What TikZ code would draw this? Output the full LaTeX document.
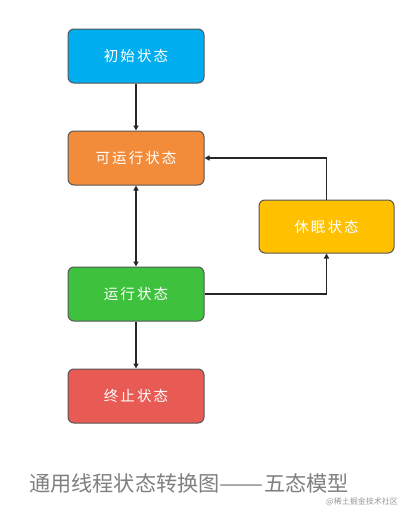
\documentclass[tikz,border=0pt]{standalone}
\usepackage{fontspec}
\newfontfamily\cjk{Noto Sans CJK SC}
\newfontfamily\cjkwide[LetterSpace=14]{Noto Sans CJK SC}
\usetikzlibrary{arrows.meta}
\definecolor{cblue}{RGB}{0,174,239}
\definecolor{corange}{RGB}{243,140,58}
\definecolor{cyellow}{RGB}{255,192,0}
\definecolor{cgreen}{RGB}{62,194,62}
\definecolor{cred}{RGB}{232,90,84}
\definecolor{cborder}{RGB}{85,85,85}
\definecolor{ccap}{RGB}{128,128,128}
\tikzset{
  state/.style={draw=cborder, line width=1pt, rounded corners=6pt, minimum width=136pt, minimum height=54pt, inner sep=0pt, text=white, font=\cjkwide\fontsize{14.5}{16}\selectfont},
  conn/.style={draw=black!85, line width=1.5pt, -{Triangle[length=5pt,width=5pt]}},
  conn2/.style={draw=black!85, line width=1.5pt, {Triangle[length=5pt,width=5pt]}-{Triangle[length=5pt,width=5pt]}}
}
\begin{document}
\begin{tikzpicture}[x=1pt,y=-1pt]
\useasboundingbox[fill=white] (0,0) rectangle (412,520);
\node[state, fill=cblue] (init) at (136,56) {初始状态};
\node[state, fill=corange] (ready) at (136,158) {可运行状态};
\node[state, fill=cyellow, minimum width=135pt, minimum height=53pt] (sleep) at (326.5,226.5) {休眠状态};
\node[state, fill=cgreen] (run) at (136,294) {运行状态};
\node[state, fill=cred] (term) at (136,396) {终止状态};
\draw[conn] (init) -- (ready);
\draw[conn2] (ready) -- (run);
\draw[conn] (run) -| (sleep);
\draw[conn] (sleep) |- (ready);
\draw[conn] (run) -- (term);
\node[anchor=west, text=ccap, font=\cjk\fontsize{21.2}{24}\selectfont, inner sep=0pt] (cap) at (29,483) {通用线程状态转换图\resizebox{44pt}{\height}{——}五态模型};
\node[anchor=east, text=black!40, font=\cjk\fontsize{8}{9}\selectfont, inner sep=0pt] (wm) at (398,502) {@稀土掘金技术社区};
\end{tikzpicture}
\end{document}
